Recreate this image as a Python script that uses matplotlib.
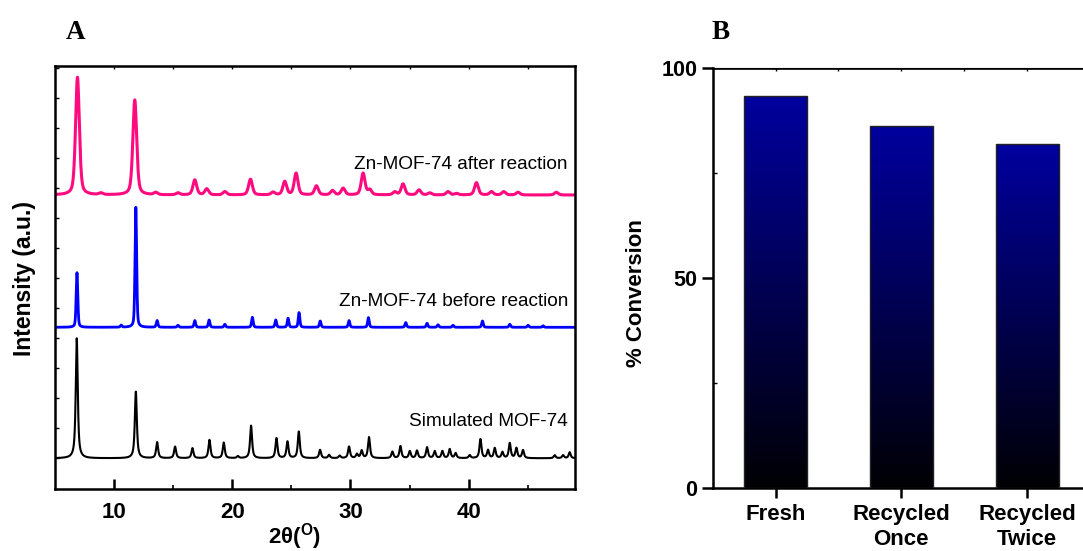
import numpy as np
import matplotlib
matplotlib.use("Agg")
import matplotlib.pyplot as plt
from matplotlib.colors import LinearSegmentedColormap

plt.rcParams['font.family'] = ['Liberation Sans', 'DejaVu Sans']
plt.rcParams['mathtext.fontset'] = 'custom'
plt.rcParams['mathtext.rm'] = 'Liberation Sans'
plt.rcParams['mathtext.bf'] = 'Liberation Sans:bold'

# ---------------- Panel A data (peak lists) ----------------
sim_pos = [6.84, 11.84, 13.64, 15.16, 16.63, 18.07, 19.28, 20.47, 21.59, 23.74, 24.67, 25.63,
           27.43, 28.19, 29.09, 29.88, 30.55, 30.95, 31.57, 33.55, 34.23, 35.02, 35.63, 36.48,
           37.13, 37.78, 38.40, 38.90, 40.09, 41.00, 41.64, 42.21, 42.86, 43.48, 44.04, 44.60,
           47.28, 47.99, 48.55]
sim_int = [120, 66.6, 16, 11.6, 10, 18.3, 15.6, 2, 32.6, 20, 16.6, 26.6,
           8.3, 3.3, 2.5, 11.6, 4, 7.5, 21, 6.5, 12, 7, 7.5, 10.8,
           7, 7, 9, 5, 3, 19, 8, 10, 6, 15, 10, 8,
           3, 3, 6]
sim_base = 30.7

before_pos = [6.86, 10.60, 11.84, 13.64, 15.40, 16.83, 18.04, 19.37, 21.70, 23.68, 24.72, 25.65,
              27.44, 29.88, 31.52, 34.68, 36.48, 37.41, 38.68, 41.17, 43.48, 45.03, 46.30]
before_int = [54.6, 2, 120, 6.7, 2, 6.7, 7.3, 3, 10, 7.3, 9, 14.7,
              6.3, 6.7, 9.7, 4.7, 4, 2.5, 2, 6.3, 3, 2, 1.5]
before_base = 161.7

after_pos = [6.90, 8.87, 11.75, 13.53, 15.41, 16.83, 17.84, 19.37, 21.54, 23.45, 24.44, 25.40,
             27.12, 28.48, 29.38, 31.07, 31.63, 33.75, 34.45, 35.80, 36.71, 38.26, 38.97,
             40.66, 41.93, 42.97, 44.18, 47.42]
after_int = [117.7, 1.7, 95, 2.3, 2, 15, 6, 3.3, 15.7, 2.7, 13.3, 21.7,
             9, 4.3, 6.7, 21.7, 5, 3, 11, 5, 2, 3.3, 1.5,
             12.3, 3.3, 3.3, 2.7, 2.7]
after_base = 294.0

labels_A = ["Simulated MOF-74", "Zn-MOF-74 before reaction", "Zn-MOF-74 after reaction"]

# ---------------- Panel B data ----------------
categories = ["Fresh", "Recycled\nOnce", "Recycled\nTwice"]
conversion = [93.4, 86.2, 82.1]

# ---------------- Figure ----------------
W, H = 1083, 551
fig = plt.figure(figsize=(W / 100, H / 100), dpi=100)


def box(l, r, t, b):
    return [l / W, 1 - b / H, (r - l) / W, (b - t) / H]


axA = fig.add_axes(box(55, 575, 66, 489))
tt = np.linspace(5, 49, 8801)


def profile(pos, inten, fwhm, eta):
    y = np.zeros_like(tt)
    g = fwhm / 2.0
    s = fwhm / 2.3548
    for p, a in zip(pos, inten):
        lor = 1.0 / (1.0 + ((tt - p) / g) ** 2)
        gau = np.exp(-0.5 * ((tt - p) / s) ** 2)
        y += a * (eta * lor + (1 - eta) * gau)
    return y


axA.plot(tt, sim_base + profile(sim_pos, sim_int, 0.20, 0.8), color='black', lw=1.5)
axA.plot(tt, before_base + profile(before_pos, before_int, 0.16, 0.4), color='#0000FF', lw=2.0)
axA.plot(tt, after_base + profile(after_pos, after_int, 0.38, 0.45), color='#FF0A7F', lw=2.2)

axA.set_xlim(5, 49)
axA.set_ylim(0, 423)
axA.set_xticks([10, 20, 30, 40])
axA.set_xticks([15, 25, 35, 45], minor=True)
axA.set_yticks(np.arange(31, 423, 30))
axA.tick_params(axis='x', which='major', direction='in', length=7.5, width=1.8,
                labelsize=16, pad=9)
axA.tick_params(axis='x', which='minor', direction='in', length=3, width=1.2)
axA.tick_params(axis='y', which='major', direction='in', length=3, width=1.0,
                labelleft=False)
for lab in axA.get_xticklabels():
    lab.set_fontweight('bold')
for sp in axA.spines.values():
    sp.set_linewidth(1.8)
secA = axA.secondary_xaxis('top')
secA.set_xticks([10, 15, 20, 25, 30, 35, 40, 45])
secA.tick_params(direction='in', length=2.5, width=1.0, labeltop=False)

axA.set_xlabel('2θ(' + r'$^{\mathbf{O}}$' + ')', fontsize=16, fontweight='bold',
               va='center', ha='center')
axA.xaxis.set_label_coords(0.46, -0.113)
axA.set_ylabel('Intensity (a.u.)', fontsize=16.5, fontweight='bold',
               va='center', ha='center')
axA.yaxis.set_label_coords(-0.058, 0.4965)

for lab, yy in zip(labels_A, [0.159, 0.4428, 0.766]):
    axA.text(0.9865, yy, lab, transform=axA.transAxes, ha='right', va='center',
             fontsize=13.7)

fig.text(76 / W, 1 - 32.4 / H, 'A', family='Liberation Serif', fontweight='bold',
         fontsize=19.5, ha='center', va='center')

# ---------------- Panel B ----------------
axB = fig.add_axes(box(712.7, 1090, 68.5, 487.5))
xpos = np.arange(len(categories))
bars = axB.bar(xpos, conversion, width=0.5, color='none', edgecolor='#222222',
               linewidth=1.0, zorder=3)
cmap = LinearSegmentedColormap.from_list('bk_blue', ['#000004', '#00009E'])
grad = np.linspace(0, 1, 256).reshape(-1, 1)
for b in bars:
    x0 = b.get_x()
    im = axB.imshow(grad, extent=[x0, x0 + b.get_width(), 0, b.get_height()],
                    origin='lower', aspect='auto', cmap=cmap, zorder=2)
    im.set_clip_path(b)
axB.set_xlim(-0.5, 2.5)
axB.set_ylim(0, 100)
axB.set_yticks([0, 50, 100])
axB.set_yticks([25, 75], minor=True)
axB.set_xticks(xpos)
axB.set_xticklabels(categories, fontsize=16, fontweight='bold', linespacing=1.22)
axB.tick_params(axis='x', which='major', direction='out', length=7, width=1.8, pad=5)
axB.tick_params(axis='y', which='major', direction='out', length=8, width=1.8,
                labelsize=15.5, pad=3)
axB.tick_params(axis='y', which='minor', direction='in', length=3, width=1.0)
for lab in axB.get_yticklabels():
    lab.set_fontweight('bold')
for k in ['left', 'bottom', 'top']:
    axB.spines[k].set_linewidth(1.8)
axB.spines['top'].set_linewidth(1.2)
axB.spines['right'].set_visible(False)
secB = axB.secondary_xaxis('top')
secB.set_xticks([0, 0.5, 1, 1.5, 2, 2.5])
secB.tick_params(direction='in', length=2.5, width=1.0, labeltop=False)
axB.set_ylabel('% Conversion', fontsize=16, fontweight='bold', va='center', ha='center')
axB.yaxis.set_label_coords(-0.2014, 0.465)

fig.text(720.7 / W, 1 - 32.3 / H, 'B', family='Liberation Serif', fontweight='bold',
         fontsize=19.5, ha='center', va='center')

fig.savefig('out.png', dpi=100)
